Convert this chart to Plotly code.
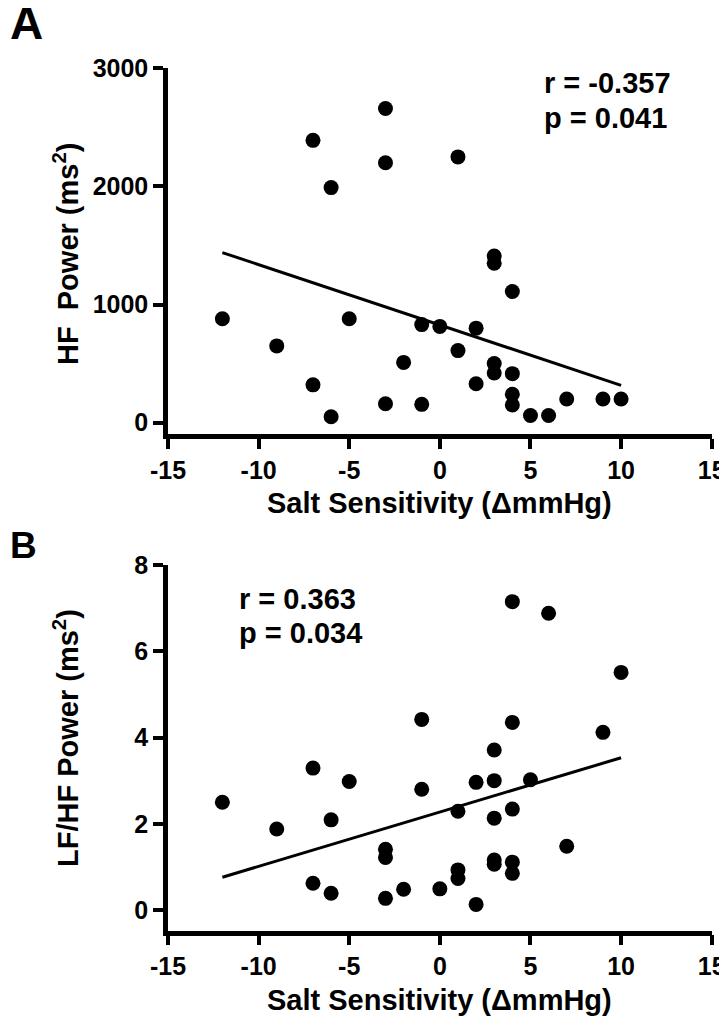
import plotly.graph_objects as go

# ---------------- data ----------------
salt_a = [-12, -9, -7, -7, -6, -6, -5, -3, -3, -3, -2, -1, -1, 0, 1, 1, 2, 2,
          3, 3, 3, 3, 4, 4, 4, 4, 5, 6, 7, 9, 10]
hf_power = [880, 650, 2390, 320, 1990, 50, 880, 2660, 2200, 160, 510, 830, 155,
            815, 2250, 610, 800, 330, 1410, 1350, 500, 420, 1110, 415, 240, 150,
            60, 60, 200, 200, 200]

salt_b = [-12, -9, -7, -7, -6, -6, -5, -3, -3, -3, -2, -1, -1, 0, 1, 1, 1, 2, 2,
          3, 3, 3, 3, 3, 4, 4, 4, 4, 4, 5, 6, 7, 9, 10]
lfhf_power = [2.50, 1.88, 3.29, 0.62, 2.09, 0.39, 2.98, 1.41, 1.22, 0.27, 0.48,
              4.42, 2.80, 0.49, 2.29, 0.93, 0.73, 2.96, 0.13, 3.71, 3.00, 2.13,
              1.16, 1.06, 7.15, 4.35, 2.34, 1.11, 0.85, 3.02, 6.88, 1.48, 4.12, 5.51]

fit_x = [-12, 10]
fit_a = [1440, 316]
fit_b = [0.76, 3.53]

x_ticks = [-15, -10, -5, 0, 5, 10, 15]
x_ticktext = ["-15", "-10", "-5", "0", "5", "10", "15"]
ya_ticks = [0, 1000, 2000, 3000]
yb_ticks = [0, 2, 4, 6, 8]

stats_a = ["r = -0.357", "p = 0.041"]
stats_b = ["r = 0.363", "p = 0.034"]
x_title = "Salt Sensitivity (\u0394mmHg)"
ya_title = "HF\u00a0 Power (ms<sup>2</sup>)"
yb_title = "LF/HF Power (ms<sup>2</sup>)"

# ---------------- layout helpers ----------------
# The page body has an 8px default margin; the figure is sized so that
# it exactly fills the remaining 727x1020 window area.
OFF = 8
W, H = 727 - OFF, 1020 - OFF
FONT = "Liberation Sans, Arial, Helvetica, sans-serif"


def fx(p):
    return (p - OFF) / W


def fy(p):
    return 1 - (p - OFF) / H


def bold(size):
    return dict(family=FONT, size=size, color="black", weight="bold")


fig = go.Figure()

marker = dict(color="black", size=15)
fig.add_trace(go.Scatter(x=salt_a, y=hf_power, mode="markers", marker=marker,
                         xaxis="x", yaxis="y", showlegend=False))
fig.add_trace(go.Scatter(x=fit_x, y=fit_a, mode="lines",
                         line=dict(color="black", width=3),
                         xaxis="x", yaxis="y", showlegend=False))
fig.add_trace(go.Scatter(x=salt_b, y=lfhf_power, mode="markers", marker=marker,
                         xaxis="x2", yaxis="y2", showlegend=False))
fig.add_trace(go.Scatter(x=fit_x, y=fit_b, mode="lines",
                         line=dict(color="black", width=3),
                         xaxis="x2", yaxis="y2", showlegend=False))

axis_common = dict(showline=True, linewidth=4.5, linecolor="black",
                   ticks="outside", ticklen=10, tickwidth=3.5, tickcolor="black",
                   showgrid=False, zeroline=False, tickfont=bold(25),
                   automargin=False)

xdom = [fx(168), fx(711.7)]
fig.update_layout(
    width=W, height=H,
    margin=dict(l=0, r=0, t=0, b=0, pad=0, autoexpand=False),
    paper_bgcolor="white", plot_bgcolor="white",
    xaxis=dict(domain=xdom, range=[-15, 15], tickvals=x_ticks,
               ticktext=x_ticktext, anchor="y", **axis_common),
    yaxis=dict(domain=[fy(434), fy(68.3)], range=[-96, 3000],
               tickvals=ya_ticks, anchor="x", **axis_common),
    xaxis2=dict(domain=xdom, range=[-15, 15], tickvals=x_ticks,
                ticktext=x_ticktext, anchor="y2", **axis_common),
    yaxis2=dict(domain=[fy(930.7), fy(565)], range=[-0.48, 8],
                tickvals=yb_ticks, anchor="x2", **axis_common),
)

ann = []
# panel letters
ann.append(dict(text="A", x=fx(8), y=fy(23), xanchor="left", yanchor="middle",
                font=bold(46)))
ann.append(dict(text="B", x=fx(8), y=fy(545), xanchor="left", yanchor="middle",
                font=bold(37)))
# statistics
for i, t in enumerate(stats_a):
    ann.append(dict(text=t, x=fx(541.7), y=fy([83.5, 117.8][i]),
                    xanchor="left", yanchor="middle", font=bold(29)))
for i, t in enumerate(stats_b):
    ann.append(dict(text=t, x=fx(237.3), y=fy([598.8, 632.5][i]),
                    xanchor="left", yanchor="middle", font=bold(29)))
# axis titles
ann.append(dict(text=x_title, x=fx(439.5), y=fy(503), xanchor="center",
                yanchor="middle", font=bold(29)))
ann.append(dict(text=x_title, x=fx(439.5), y=fy(1000), xanchor="center",
                yanchor="middle", font=bold(29)))
ann.append(dict(text=ya_title, x=fx(66), y=fy(254), xanchor="center",
                yanchor="middle", textangle=-90, font=bold(29)))
ann.append(dict(text=yb_title, x=fx(66), y=fy(738), xanchor="center",
                yanchor="middle", textangle=-90, font=bold(29)))

for a in ann:
    a.update(xref="paper", yref="paper", showarrow=False)
fig.update_layout(annotations=ann)

fig.write_html("out.html")
